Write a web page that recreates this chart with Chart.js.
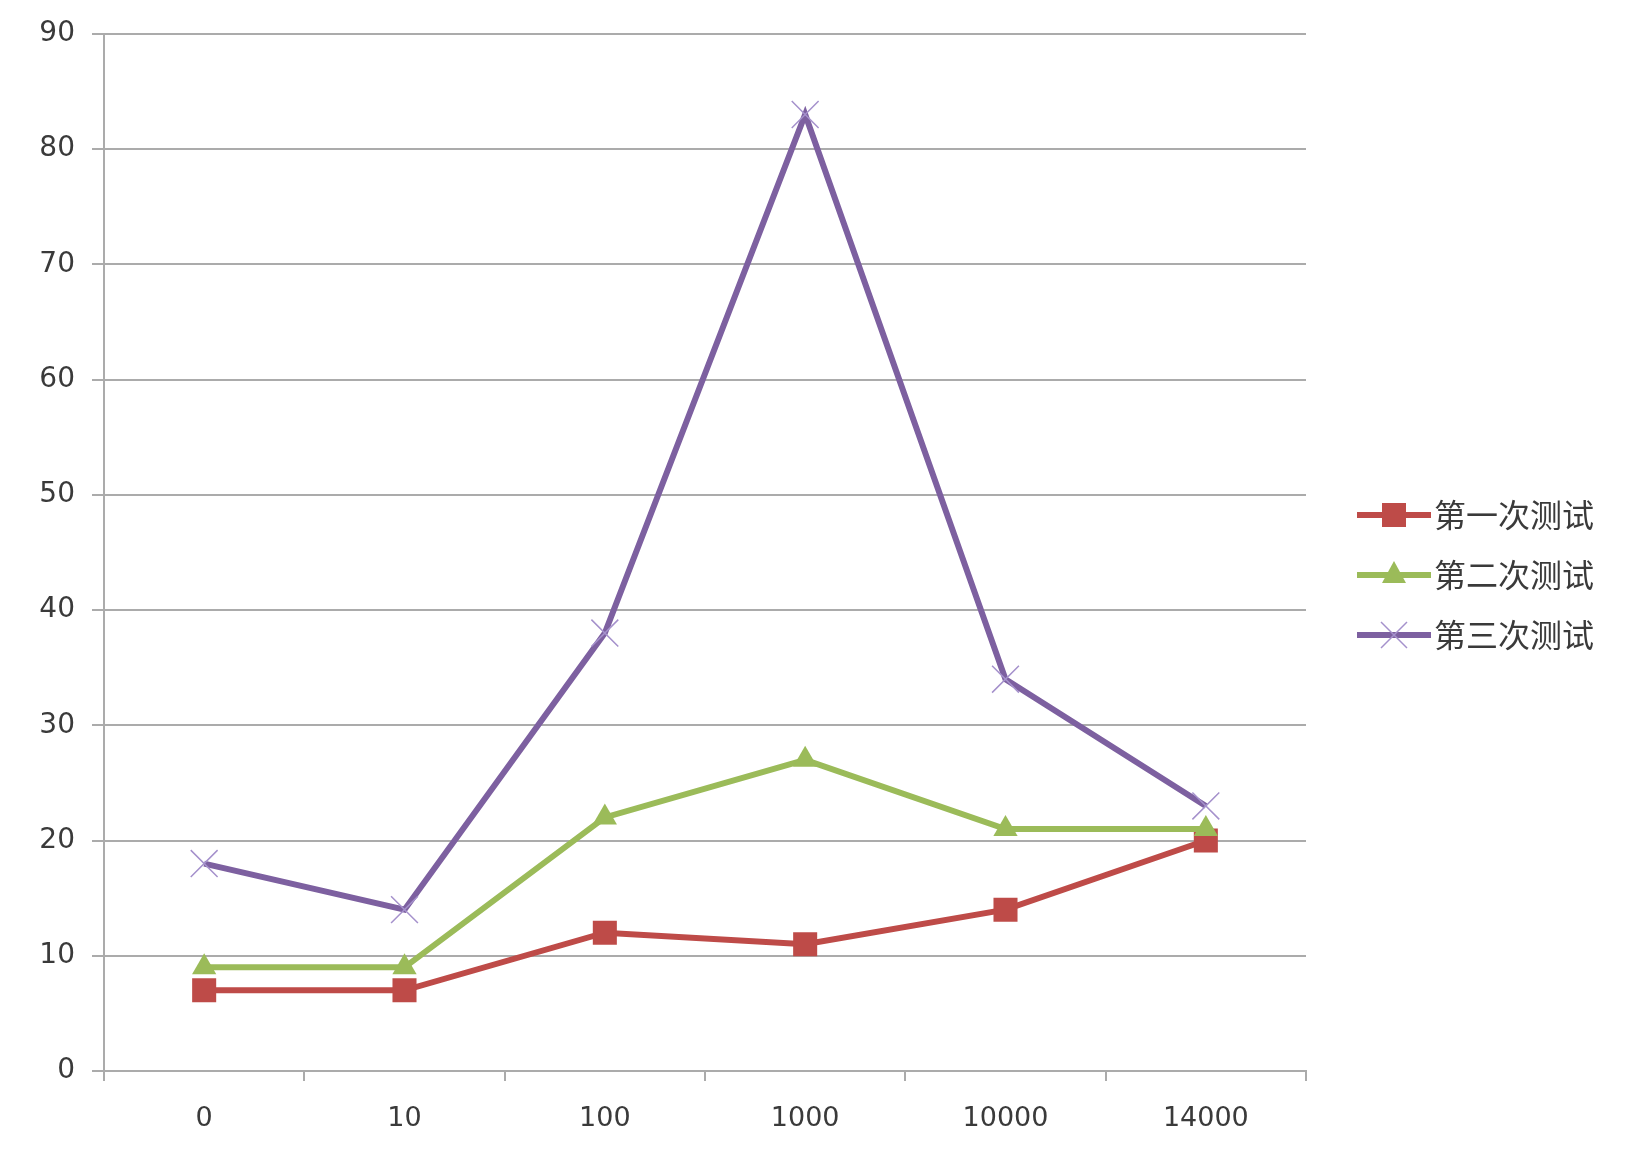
<!DOCTYPE html>
<html>
<head>
<meta charset="utf-8">
<script src="https://cdn.jsdelivr.net/npm/chart.js@4"></script>
<style>
  html, body { margin: 0; padding: 0; background: #fff; }
  #wrap { width: 1638px; height: 1158px; }
</style>
</head>
<body>
<div id="wrap"><canvas id="grafico" width="1638" height="1158"></canvas></div>
<script>
const categorias = ['0', '10', '100', '1000', '10000', '14000'];
const teste1 = [7, 7, 12, 11, 14, 20];
const teste2 = [9, 9, 22, 27, 21, 21];
const teste3 = [18, 14, 38, 83, 34, 23];
const nomes = ['第一次测试', '第二次测试', '第三次测试'];

const vermelho = '#BE4B48';
const verde = '#9BBB59';
const roxo = '#7D60A0';
const roxoClaro = '#A591CC';

// pequena imagem da legenda: linha + marcador (estilo Excel)
function iconeLegenda(cor, estilo, corMarcador) {
    const c = document.createElement('canvas');
    c.width = 110;
    c.height = 34;
    const ctx = c.getContext('2d');
    ctx.strokeStyle = cor;
    ctx.lineWidth = 6;
    ctx.beginPath();
    ctx.moveTo(36, 17);
    ctx.lineTo(110, 17);
    ctx.stroke();
    const cx = 73, cy = 17;
    if (estilo === 'rect') {
        ctx.fillStyle = cor;
        ctx.fillRect(cx - 12, cy - 12, 24, 24);
    } else if (estilo === 'triangle') {
        ctx.fillStyle = cor;
        ctx.beginPath();
        ctx.moveTo(cx, cy - 14);
        ctx.lineTo(cx + 12, cy + 8);
        ctx.lineTo(cx - 12, cy + 8);
        ctx.closePath();
        ctx.fill();
    } else {
        ctx.strokeStyle = corMarcador;
        ctx.lineWidth = 1.5;
        ctx.beginPath();
        ctx.moveTo(cx - 13, cy - 13);
        ctx.lineTo(cx + 13, cy + 13);
        ctx.moveTo(cx + 13, cy - 13);
        ctx.lineTo(cx - 13, cy + 13);
        ctx.stroke();
    }
    return c;
}

const icones = [
    iconeLegenda(vermelho, 'rect'),
    iconeLegenda(verde, 'triangle'),
    iconeLegenda(roxo, 'crossRot', roxoClaro)
];

const corEixo = '#ABABAB';
const corTexto = '#3A3A3A';

new Chart(document.getElementById('grafico'), {
    type: 'line',
    data: {
        labels: categorias,
        datasets: [
            {
                label: nomes[0],
                data: teste1,
                borderColor: vermelho,
                backgroundColor: vermelho,
                borderWidth: 6,
                pointStyle: 'rect',
                pointRadius: 17,
                pointBorderWidth: 0,
                pointBackgroundColor: vermelho,
                order: 3
            },
            {
                label: nomes[1],
                data: teste2,
                borderColor: verde,
                backgroundColor: verde,
                borderWidth: 6,
                pointStyle: 'triangle',
                pointRadius: 14,
                pointBorderWidth: 0,
                pointBackgroundColor: verde,
                order: 2
            },
            {
                label: nomes[2],
                data: teste3,
                borderColor: roxo,
                backgroundColor: roxo,
                borderWidth: 6,
                pointStyle: 'crossRot',
                pointRadius: 19,
                pointBorderWidth: 1.5,
                pointBorderColor: roxoClaro,
                order: 1
            }
        ]
    },
    options: {
        responsive: false,
        animation: false,
        layout: { padding: { top: 33, left: 0, right: 34, bottom: 0 } },
        plugins: {
            tooltip: { enabled: false },
            legend: {
                position: 'right',
                align: 'center',
                fullSize: false,
                // título vazio só para empurrar os itens para baixo
                title: {
                    display: true,
                    text: ' ',
                    font: { size: 1 },
                    padding: { top: 44, bottom: 0 }
                },
                labels: {
                    usePointStyle: true,
                    pointStyleWidth: 84,
                    padding: 28,
                    color: corTexto,
                    font: { family: '"Noto Sans CJK SC", sans-serif', size: 32 },
                    generateLabels(chart) {
                        return chart.data.datasets.map((ds, i) => ({
                            text: ds.label,
                            pointStyle: icones[i],
                            fillStyle: ds.borderColor,
                            strokeStyle: ds.borderColor,
                            lineWidth: 0,
                            datasetIndex: i,
                            fontColor: corTexto
                        }));
                    }
                }
            }
        },
        scales: {
            x: {
                offset: true,
                grid: {
                    offset: true,
                    drawOnChartArea: false,
                    drawTicks: true,
                    tickLength: 10,
                    color: corEixo,
                    lineWidth: 2
                },
                border: { color: corEixo, width: 2 },
                ticks: {
                    padding: 22,
                    color: corTexto,
                    font: { family: '"DejaVu Sans", Verdana, sans-serif', size: 27 }
                },
                afterFit(scale) { scale.height = 87; }
            },
            y: {
                min: 0,
                max: 90,
                ticks: {
                    stepSize: 10,
                    padding: 17,
                    color: corTexto,
                    font: { family: '"DejaVu Sans", Verdana, sans-serif', size: 28 }
                },
                grid: {
                    color: corEixo,
                    lineWidth: 2,
                    tickLength: 12
                },
                border: { color: corEixo, width: 2 },
                afterFit(scale) { scale.width = 104; }
            }
        }
    }
});
</script>
</body>
</html>
